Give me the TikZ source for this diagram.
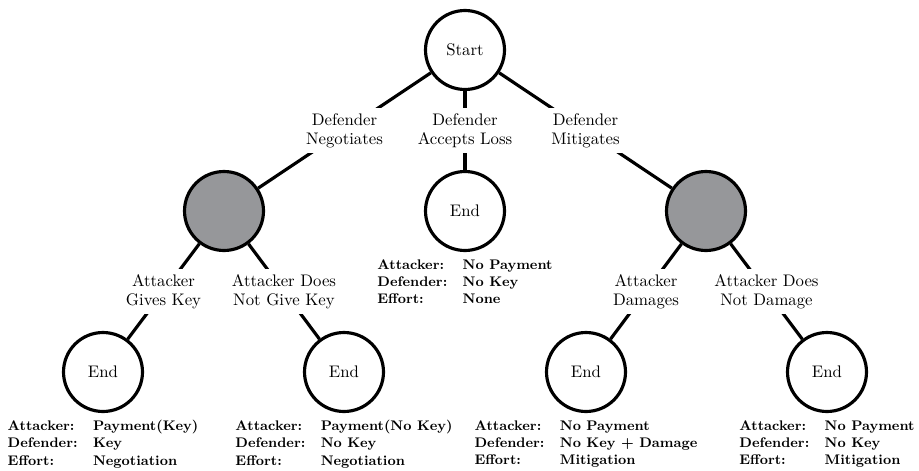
\documentclass[tikz,border=0pt]{standalone}
\usepackage{tikz}
\definecolor{nodegrey}{RGB}{150,151,154}
\begin{document}
\begin{tikzpicture}[x=0.633pt,y=0.633pt,
  every node/.style={font=\fontsize{10.6}{12.2}\selectfont},
  state/.style={circle, draw, line width=2pt, minimum size=50pt, inner sep=0pt},
  chance/.style={state, fill=nodegrey},
  edge/.style={line width=2pt},
  lbl/.style={fill=white, align=center, inner sep=3.3pt},
  payoff/.style={anchor=north, align=left, inner sep=0pt, yshift=-4.5pt, font=\fontsize{8.8}{10.8}\selectfont\bfseries}]
\useasboundingbox (0,0) rectangle (919,470);

\node[state]  (start) at (465,420) {Start};
\node[chance] (g1)    at (224,259) {};
\node[state]  (mid)   at (465,259) {End};
\node[chance] (g2)    at (706,259) {};
\node[state]  (e1)    at (103,98) {End};
\node[state]  (e2)    at (344,98) {End};
\node[state]  (e3)    at (586,98) {End};
\node[state]  (e4)    at (827,98) {End};

\draw[edge] (start) -- node[lbl] {Defender\\Negotiates} (g1);
\draw[edge] (start) -- node[lbl] {Defender\\Accepts Loss} (mid);
\draw[edge] (start) -- node[lbl] {Defender\\Mitigates} (g2);
\draw[edge] (g1) -- node[lbl] {Attacker\\Gives Key} (e1);
\draw[edge] (g1) -- node[lbl] {Attacker Does\\Not Give Key} (e2);
\draw[edge] (g2) -- node[lbl] {Attacker\\Damages} (e3);
\draw[edge] (g2) -- node[lbl] {Attacker Does\\Not Damage} (e4);

\node[payoff] (pm) at (mid.south) {\makebox[54pt][l]{Attacker:}No Payment\\\makebox[54pt][l]{Defender:}No Key\\\makebox[54pt][l]{Effort:}None};
\node[payoff] (p1) at (e1.south) {\makebox[54pt][l]{Attacker:}Payment(Key)\\\makebox[54pt][l]{Defender:}Key\\\makebox[54pt][l]{Effort:}Negotiation};
\node[payoff] (p2) at (e2.south) {\makebox[54pt][l]{Attacker:}Payment(No Key)\\\makebox[54pt][l]{Defender:}No Key\\\makebox[54pt][l]{Effort:}Negotiation};
\node[payoff] (p3) at (e3.south) {\makebox[54pt][l]{Attacker:}No Payment\\\makebox[54pt][l]{Defender:}No Key + Damage\\\makebox[54pt][l]{Effort:}Mitigation};
\node[payoff] (p4) at (e4.south) {\makebox[54pt][l]{Attacker:}No Payment\\\makebox[54pt][l]{Defender:}No Key\\\makebox[54pt][l]{Effort:}Mitigation};
\end{tikzpicture}
\end{document}
